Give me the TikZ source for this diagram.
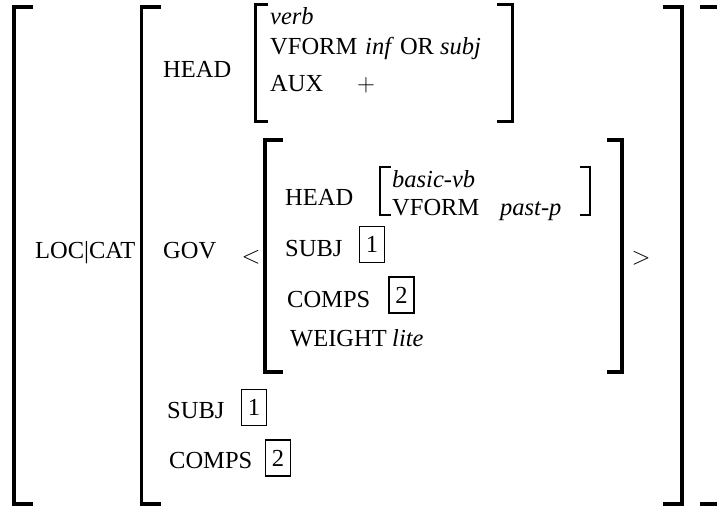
\documentclass[tikz,border=0pt]{standalone}
\usepackage{fontspec}
\setmainfont{Liberation Serif}
\usepackage{tikz}
\usetikzlibrary{positioning}
\newcommand{\avmsize}{\fontsize{24.5}{28}\selectfont}
\tikzset{
  brk/.style={line width=3.6pt, line join=miter, line cap=butt},
  midbrk/.style={line width=3pt, line join=miter, line cap=butt},
  smallbrk/.style={line width=2pt, line join=miter, line cap=butt},
  feat/.style={anchor=base west, inner sep=0pt, font=\avmsize},
  val/.style={feat, font=\avmsize\itshape},
  tagbox/.style={draw, line width=1.5pt, minimum width=25pt, minimum height=36pt, inner sep=0pt, font=\avmsize},
  sym/.style={inner sep=0pt, font=\avmsize}
}

\begin{document}
\begin{tikzpicture}[x=1pt, y=-1pt]
        \useasboundingbox (0,0) rectangle (717,508);
        \clip (0,0) rectangle (717,508);
        % outer brackets
        \draw[brk] (33,7) -- (14,7) -- (14,504) -- (33,504);
        \draw[brk] (161,7) -- (141.5,7) -- (141.5,504) -- (161,504);
        \draw[brk] (663,7) -- (682,7) -- (682,504) -- (663,504);
        \draw[brk] (700,7) -- (719,7) -- (719,504) -- (700,504);
        % HEAD value
        \draw[midbrk] (268,5) -- (255,5) -- (255,122) -- (268,122);
        \draw[midbrk] (497,5) -- (512,5) -- (512,122) -- (497,122);
        \node[val] (verb) at (270,25) {verb};
        \node[feat] (vform) at (270,55) {VFORM};
        \node[feat] (vformval) at (365,55) {\textit{inf} OR \textit{subj}};
        \node[feat] (aux) at (270,92) {AUX};
        \node[sym] (plus) at (366,85) {$+$};
        \node[feat] (head) at (163,78) {HEAD};
        % LOC|CAT and GOV
        \node[feat] (loccat) at (35,258) {LOC|CAT};
        \node[feat] (gov) at (163,258) {GOV};
        \node[sym] (lt) at (251,257) {$<$};
        \node[sym] (gt) at (641,258) {$>$};
        \draw[brk] (283,140) -- (265,140) -- (265,372) -- (283,372);
        \draw[brk] (607,140) -- (622,140) -- (622,372) -- (607,372);
        % governed head
        \node[feat] (ghead) at (285,205) {HEAD};
        \draw[smallbrk] (391,167) -- (380,167) -- (380,215) -- (391,215);
        \draw[smallbrk] (580,167) -- (590,167) -- (590,215) -- (580,215);
        \node[val] (basicvb) at (392,187) {basic-vb};
        \node[feat] (gvform) at (392,215) {VFORM};
        \node[val] (pastp) at (500,215) {past-p};
        \node[feat] (gsubj) at (285,256) {SUBJ};
        \node[tagbox] (gtagone) at (372,244.5) {1};
        \node[feat] (gcomps) at (287,307) {COMPS};
        \node[tagbox] (gtagtwo) at (401.5,295) {2};
        \node[feat] (weight) at (290,346) {WEIGHT};
        \node[val] (lite) at (392,346) {lite};
        % valence
        \node[feat] (subj) at (167,418) {SUBJ};
        \node[tagbox] (tagone) at (254,407.5) {1};
        \node[feat] (comps) at (169,468) {COMPS};
        \node[tagbox] (tagtwo) at (278,458) {2};
      \end{tikzpicture}
\end{document}
